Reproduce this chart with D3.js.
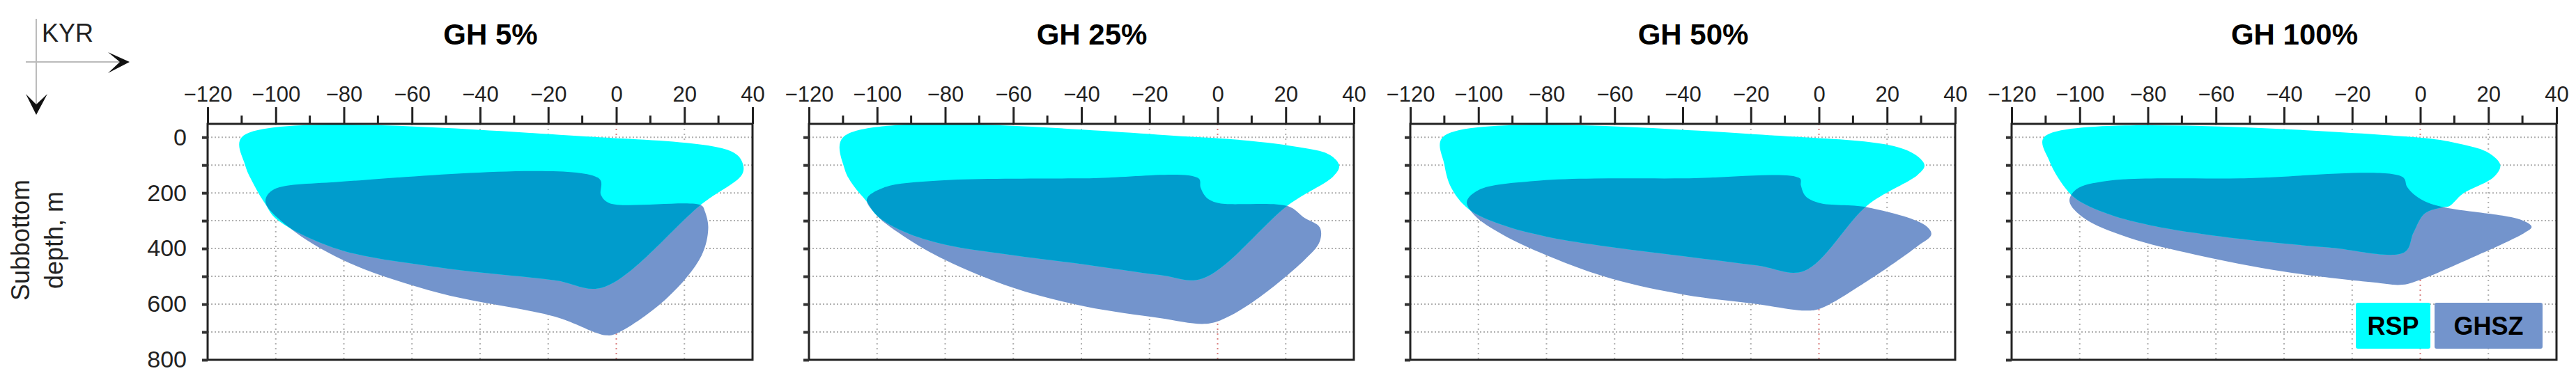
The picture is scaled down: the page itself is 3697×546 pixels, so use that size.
<!DOCTYPE html>
<html>
<head>
<meta charset="utf-8">
<script src="https://cdn.jsdelivr.net/npm/d3@7"></script>
<style>
  body { margin: 0; background: #fff; }
  text { font-family: "Liberation Sans", Arial, sans-serif; }
</style>
</head>
<body>
<svg id="chart"></svg>
<script>
var svgWidth = 3697, svgHeight = 546;

var titles = ["GH 5%", "GH 25%", "GH 50%", "GH 100%"];
var xTicks = [-120, -100, -80, -60, -40, -20, 0, 20, 40];
var yTicks = [0, 200, 400, 600, 800];

// outlines as [kyr, depth m]
var rsp5 = [[-110,0],[-5,0],[34,52],[37,90],[37,132],[25,241],[-4,540],[-18,514],[-52,468],[-82,401],[-100,292],[-103,241],[-106,180],[-109,100]];
var ghsz5 = [[-5,149],[-82,161],[-101,191],[-103,233],[-96,325],[-80,443],[-52,560],[-18,645],[-3,712],[0.5,703],[15,577],[25,426],[27,325],[26,266],[25,245],[-2,237],[-4.5,208]];

var rsp25 = [[-110,0],[-5,0],[25.5,39],[33,64],[35.7,102],[34,140],[20.7,244],[-4.5,508],[-17,495],[-39,457],[-60,424],[-80,386],[-92,340],[-100,282],[-103,232],[-107,173],[-109.5,115]];
var ghsz25 = [[-5.6,148],[-39,148],[-82,156],[-98,181],[-103,223],[-100,282],[-92,357],[-80,441],[-60,541],[-39,608],[-17,650],[-4.5,671],[0,662],[9.4,600],[25.5,441],[30,374],[30,324],[25.5,290],[20.7,248],[0,236],[-3.4,215],[-5,181]];

var rsp50 = [[-110.5,0],[-4.5,0],[23,35],[29,69],[31,102],[29,135],[14.3,244],[-4.5,481],[-18,461],[-39.5,428],[-61,395],[-80,357],[-93,315],[-103,257],[-108,181],[-110,98]];
var ghsz50 = [[-5.6,148],[-39.5,148],[-82,156],[-100,190],[-103.4,232],[-101,282],[-93,349],[-80,424],[-61,508],[-39.5,566],[-18,600],[-4,623],[0.3,616],[14.3,516],[29,391],[33,349],[31,315],[14.3,252],[0,236],[-4,211],[-5.3,173]];

var rsp100 = [[-110.5,0],[-1.3,0],[12.4,26],[20,56],[23.5,100],[21.6,143],[12.4,204],[8.5,248],[6.5,252],[1.3,274],[-2,343],[-4.6,413],[-27,396],[-53,365],[-79,317],[-92,274],[-101,222],[-105,170],[-109,83]];
var ghsz100 = [[-5.2,143],[-53,148],[-92,157],[-101,187],[-103,230],[-98.7,291],[-85.6,361],[-66,422],[-40,483],[-13.7,522],[-5.2,530],[0.7,509],[12.4,448],[30.7,343],[32.7,322],[29.4,296],[7.2,252],[1.3,230],[-2,204],[-3.9,178]];

var rspData = [rsp5, rsp25, rsp50, rsp100];
var ghszData = [ghsz5, ghsz25, ghsz50, ghsz100];

var cRSP = "#00ffff", cGHSZ = "#7394cc", cBoth = "#009ccc";

var svg = d3.select("#chart").attr("width", svgWidth).attr("height", svgHeight);

var panelLeft = 298, panelStep = 863, panelW = 782, plotTop = 178, plotBottom = 517;

var yScale = d3.scaleLinear().domain([-48, 800]).range([plotTop, plotBottom]);

titles.forEach(function (title, i) {
  var x0 = panelLeft + i * panelStep;
  var xScale = d3.scaleLinear().domain([-120, 40]).range([x0, x0 + panelW]);
  var g = svg.append("g");

  // grid
  g.selectAll(".gx").data(xTicks.slice(1, -1)).enter().append("line")
    .attr("x1", function (d) { return xScale(d); }).attr("x2", function (d) { return xScale(d); })
    .attr("y1", plotTop).attr("y2", plotBottom)
    .attr("stroke", function (d) { return d === 0 ? "#d98080" : "#b0b0b0"; })
    .attr("stroke-width", 2).attr("stroke-dasharray", "2,5");
  g.selectAll(".gy").data(d3.range(0, 800, 100)).enter().append("line")
    .attr("x1", x0).attr("x2", x0 + panelW)
    .attr("y1", function (d) { return yScale(d); }).attr("y2", function (d) { return yScale(d); })
    .attr("stroke", "#b0b0b0").attr("stroke-width", 2).attr("stroke-dasharray", "2,3");

  var line = d3.line()
    .x(function (d) { return xScale(d[0]); })
    .y(function (d) { return yScale(d[1]); })
    .curve(d3.curveCatmullRomClosed.alpha(0.5));

  var clipId = "clip" + i;
  svg.append("clipPath").attr("id", clipId).append("path").attr("d", line(ghszData[i]));

  g.append("path").attr("d", line(ghszData[i])).attr("fill", cGHSZ);
  g.append("path").attr("d", line(rspData[i])).attr("fill", cRSP);
  g.append("path").attr("d", line(rspData[i])).attr("fill", cBoth)
    .attr("clip-path", "url(#" + clipId + ")");

  // frame
  g.append("rect").attr("x", x0).attr("y", plotTop).attr("width", panelW).attr("height", plotBottom - plotTop)
    .attr("fill", "none").attr("stroke", "#222").attr("stroke-width", 3);

  // top axis
  var xAxis = d3.axisTop(xScale).tickValues(xTicks).tickSize(24).tickSizeOuter(0).tickPadding(8);
  var ax = g.append("g").attr("transform", "translate(0," + plotTop + ")").call(xAxis);
  ax.select(".domain").remove();
  ax.selectAll("line").attr("stroke", "#222").attr("stroke-width", 3);
  ax.selectAll("text").attr("font-size", 31).attr("fill", "#222");
  g.selectAll(".minor").data(d3.range(-110, 40, 20)).enter().append("line")
    .attr("x1", function (d) { return xScale(d); }).attr("x2", function (d) { return xScale(d); })
    .attr("y1", plotTop).attr("y2", plotTop - 12).attr("stroke", "#222").attr("stroke-width", 3);

  // left axis
  var yAxis = d3.axisLeft(yScale).tickValues(d3.range(0, 900, 100)).tickSize(8).tickSizeOuter(0)
    .tickFormat(function (d) { return (i === 0 && yTicks.indexOf(d) >= 0) ? d : ""; }).tickPadding(22);
  var ay = g.append("g").attr("transform", "translate(" + x0 + ",0)").call(yAxis);
  ay.select(".domain").remove();
  ay.selectAll("line").attr("stroke", "#333").attr("stroke-width", 4);
  ay.selectAll("text").attr("font-size", 34).attr("fill", "#222");

  svg.append("text").attr("x", x0 + panelW / 2 + 15).attr("y", 64)
    .attr("text-anchor", "middle").attr("font-size", 42).attr("font-weight", "bold").text(title);
});

// axis direction sketch
svg.append("line").attr("x1", 52).attr("x2", 52).attr("y1", 27).attr("y2", 158).attr("stroke", "#bbb").attr("stroke-width", 2);
svg.append("line").attr("x1", 37).attr("x2", 178).attr("y1", 89).attr("y2", 89).attr("stroke", "#bbb").attr("stroke-width", 2);
svg.append("path").attr("d", "M155,75 L186,89 L155,105 L172,89 Z").attr("fill", "#111");
svg.append("path").attr("d", "M37,135 L52,165 L68,135 L52,150 Z").attr("fill", "#111");
svg.append("text").attr("x", 60).attr("y", 60).attr("font-size", 36).attr("fill", "#222").text("KYR");

svg.append("text").attr("transform", "translate(42,345) rotate(-90)").attr("text-anchor", "middle")
  .attr("font-size", 36).attr("fill", "#222").text("Subbottom");
svg.append("text").attr("transform", "translate(90,345) rotate(-90)").attr("text-anchor", "middle")
  .attr("font-size", 36).attr("fill", "#222").text("depth, m");

// legend
var legend = [{ name: "RSP", color: cRSP, x: 3381, w: 107 }, { name: "GHSZ", color: cGHSZ, x: 3494, w: 155 }];
var lg = svg.selectAll(".lg").data(legend).enter().append("g");
lg.append("rect").attr("x", function (d) { return d.x; }).attr("y", 435)
  .attr("width", function (d) { return d.w; }).attr("height", 66).attr("rx", 3)
  .attr("fill", function (d) { return d.color; });
lg.append("text").attr("x", function (d) { return d.x + d.w / 2; }).attr("y", 481)
  .attr("text-anchor", "middle").attr("font-size", 36).attr("font-weight", "bold").attr("fill", "#000")
  .text(function (d) { return d.name; });
</script>
</body>
</html>
